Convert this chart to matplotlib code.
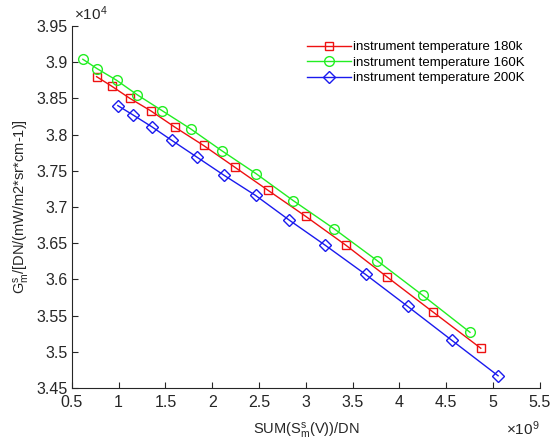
import matplotlib
matplotlib.use('Agg')
from matplotlib import pyplot as plt
from matplotlib.ticker import FuncFormatter, MultipleLocator

plt.rcParams['font.family'] = ['Liberation Sans', 'DejaVu Sans']
plt.rcParams['mathtext.fontset'] = 'custom'
plt.rcParams['mathtext.rm'] = 'Liberation Sans'
plt.rcParams['mathtext.it'] = 'Liberation Sans'

# x in units of 1e9 DN, y in units of 1e4
x_180 = [0.764, 0.924, 1.120, 1.341, 1.604, 1.907, 2.241, 2.597, 3.000, 3.431, 3.873, 4.360, 4.870]
y_180 = [3.880, 3.867, 3.850, 3.833, 3.810, 3.785, 3.755, 3.723, 3.687, 3.647, 3.603, 3.555, 3.505]

x_160 = [0.617, 0.770, 0.978, 1.198, 1.465, 1.768, 2.099, 2.469, 2.864, 3.302, 3.762, 4.250, 4.755]
y_160 = [3.904, 3.891, 3.875, 3.855, 3.833, 3.808, 3.778, 3.746, 3.709, 3.670, 3.626, 3.578, 3.527]

x_200 = [0.991, 1.155, 1.352, 1.568, 1.835, 2.124, 2.463, 2.822, 3.210, 3.638, 4.087, 4.560, 5.055]
y_200 = [3.840, 3.827, 3.811, 3.792, 3.769, 3.744, 3.716, 3.682, 3.647, 3.607, 3.563, 3.516, 3.467]

labels = ['instrument temperature 180k', 'instrument temperature 160K', 'instrument temperature 200K']

txt = '#262626'
fig = plt.figure(figsize=(5.53, 4.40), dpi=100)
ax = fig.add_axes([0.130, 0.118, 0.846, 0.823])

ax.plot(x_180, y_180, color='#ee1111', lw=1, marker='s', ms=5.5, mfc='none', mew=1, label=labels[0])
ax.plot(x_160, y_160, color='#22ee22', lw=1, marker='o', ms=7, mfc='none', mew=1, label=labels[1])
ax.plot(x_200, y_200, color='#1a1aee', lw=1, marker='D', ms=6, mfc='none', mew=1, label=labels[2])

ax.set_xlim(0.5, 5.5)
ax.set_ylim(3.45, 3.95)
ax.xaxis.set_major_locator(MultipleLocator(0.5))
ax.yaxis.set_major_locator(MultipleLocator(0.05))
fmt = FuncFormatter(lambda v, p: '%g' % round(v, 3))
ax.xaxis.set_major_formatter(fmt)
ax.yaxis.set_major_formatter(fmt)

for s in ['top', 'right']:
    ax.spines[s].set_visible(False)
for s in ['left', 'bottom']:
    ax.spines[s].set_color(txt)
    ax.spines[s].set_linewidth(0.8)
ax.tick_params(direction='in', length=4, width=0.8, colors=txt, labelsize=11.5)
ax.tick_params(axis='x', pad=5)
ax.tick_params(axis='y', pad=3)

ax.set_xlabel(r'SUM(S$^{\mathrm{s}}_{\mathrm{m}}$(V))/DN', fontsize=10.5, color=txt, labelpad=8)
ax.set_ylabel(r'G$^{\mathrm{s}}_{\mathrm{m}}$/[DN/(mW/m2*sr*cm-1)]', fontsize=10.5, color=txt, labelpad=3)

fig.text(0.133, 0.948, r'$\times\mathrm{10^4}$', fontsize=11, color=txt, ha='left', va='bottom')
fig.text(0.976, 0.025, r'$\times\mathrm{10^9}$', fontsize=11, color=txt, ha='right', va='center')

ax.legend(loc='upper left', bbox_to_anchor=(307 / 553, 1 - 41 / 440), bbox_transform=fig.transFigure,
          frameon=False, fontsize=9.5, handlelength=3.3, handletextpad=0.2, labelspacing=0.25,
          borderaxespad=0, borderpad=0)

fig.savefig('out.png', dpi=100)
plt.close(fig)
